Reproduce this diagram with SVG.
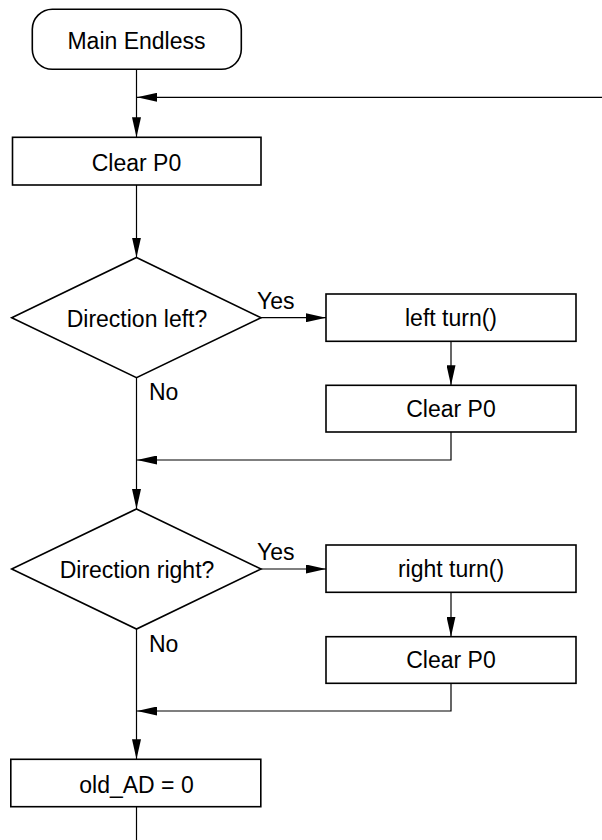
<svg xmlns="http://www.w3.org/2000/svg" width="602" height="840" viewBox="0 0 602 840">
  <style>
    .shape { fill: #ffffff; stroke: #000000; stroke-width: 1.6; }
    .link { fill: none; stroke: #000000; stroke-width: 1.2; }
    .lbl { font-family: "Liberation Sans", Arial, Helvetica, sans-serif; font-size: 23px; fill: #000000; }
    .mid { text-anchor: middle; }
  </style>
  <defs>
    <marker id="arrow" viewBox="0 0 20 9" refX="20" refY="4.5" markerWidth="20" markerHeight="9" markerUnits="userSpaceOnUse" orient="auto">
      <path d="M0,0 L20,4.5 L0,9 Z" fill="#000000"/>
    </marker>
  </defs>
  <rect width="602" height="840" fill="#ffffff"/>

  <!-- connectors -->
  <g id="connectors">
    <line class="link" x1="136.5" y1="69.3" x2="136.5" y2="137.3" marker-end="url(#arrow)"/>
    <line class="link" x1="602" y1="97.3" x2="137" y2="97.3" marker-end="url(#arrow)"/>
    <line class="link" x1="136.5" y1="185" x2="136.5" y2="257.5" marker-end="url(#arrow)"/>
    <line class="link" x1="261" y1="317.7" x2="326" y2="317.7" marker-end="url(#arrow)"/>
    <line class="link" x1="451" y1="341.3" x2="451" y2="385.3" marker-end="url(#arrow)"/>
    <polyline class="link" points="451,432 451,460 137,460" marker-end="url(#arrow)"/>
    <line class="link" x1="136.5" y1="377.7" x2="136.5" y2="509" marker-end="url(#arrow)"/>
    <line class="link" x1="261" y1="569" x2="326" y2="569" marker-end="url(#arrow)"/>
    <line class="link" x1="451" y1="592.3" x2="451" y2="636.7" marker-end="url(#arrow)"/>
    <polyline class="link" points="451,683.3 451,711 137,711" marker-end="url(#arrow)"/>
    <line class="link" x1="136.5" y1="629" x2="136.5" y2="759.3" marker-end="url(#arrow)"/>
    <line class="link" x1="136.5" y1="806.7" x2="136.5" y2="840"/>
    <text class="lbl" x="257" y="309">Yes</text>
    <text class="lbl" x="149" y="400">No</text>
    <text class="lbl" x="257" y="560">Yes</text>
    <text class="lbl" x="149" y="652">No</text>
  </g>

  <g id="start">
    <rect class="shape" x="32.3" y="9.3" width="209" height="60" rx="20" ry="20"/>
    <text class="lbl mid" x="136.5" y="49.3">Main Endless</text>
  </g>

  <g id="clear-p0-1">
    <rect class="shape" x="12.5" y="137.3" width="248.5" height="47.7"/>
    <text class="lbl mid" x="136.5" y="170.7">Clear P0</text>
  </g>

  <g id="dir-left">
    <polygon class="shape" points="136.5,257.5 261,317.7 136.5,377.7 11.7,317.7"/>
    <text class="lbl mid" x="137" y="326.5">Direction left?</text>
  </g>

  <g id="left-turn">
    <rect class="shape" x="326" y="294" width="250" height="47.3"/>
    <text class="lbl mid" x="451" y="325.5">left turn()</text>
  </g>

  <g id="clear-p0-2">
    <rect class="shape" x="326" y="385.3" width="250" height="46.7"/>
    <text class="lbl mid" x="451" y="416.7">Clear P0</text>
  </g>

  <g id="dir-right">
    <polygon class="shape" points="136.5,509 261,569 136.5,629 11.7,569"/>
    <text class="lbl mid" x="137" y="578">Direction right?</text>
  </g>

  <g id="right-turn">
    <rect class="shape" x="326" y="545" width="250" height="47.3"/>
    <text class="lbl mid" x="451" y="577">right turn()</text>
  </g>

  <g id="clear-p0-3">
    <rect class="shape" x="326" y="636.7" width="250" height="46.6"/>
    <text class="lbl mid" x="451" y="668">Clear P0</text>
  </g>

  <g id="old-ad">
    <rect class="shape" x="10.8" y="759.3" width="250" height="47.4"/>
    <text class="lbl mid" x="136.5" y="792.5">old_AD = 0</text>
  </g>
</svg>
